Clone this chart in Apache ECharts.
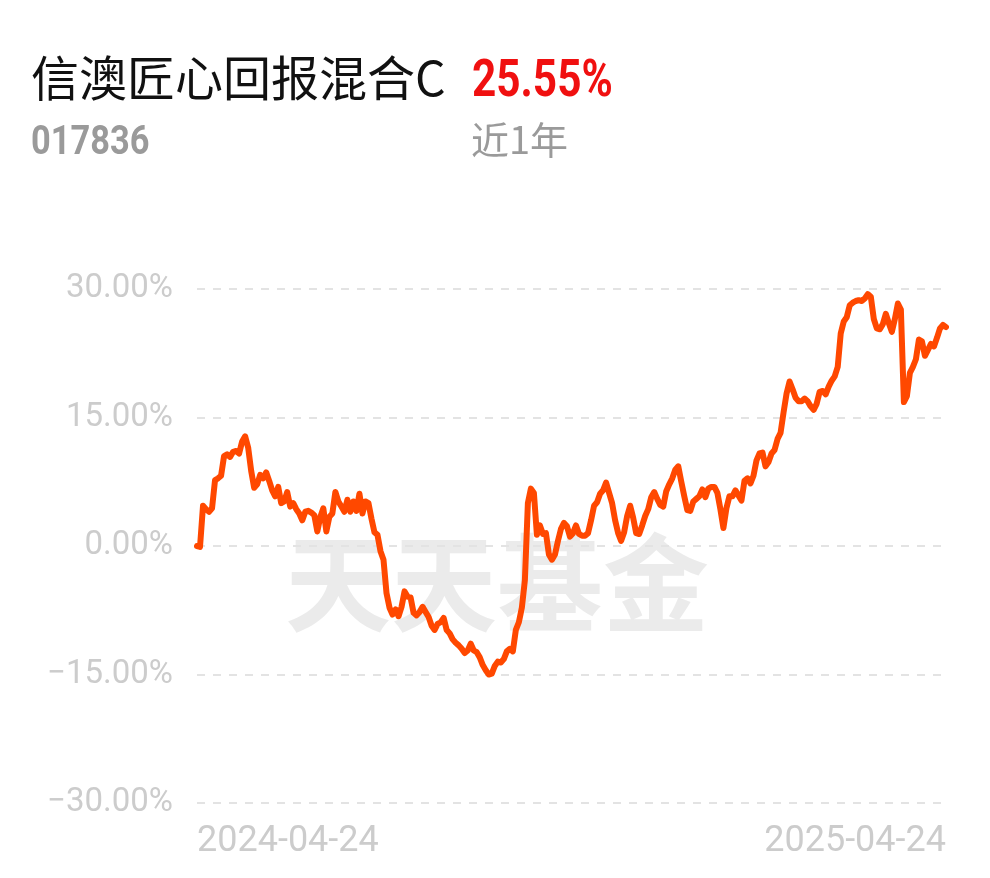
<!DOCTYPE html>
<html>
<head>
<meta charset="utf-8">
<script src="https://cdn.jsdelivr.net/npm/echarts@6/dist/echarts.min.js"></script>
<style>
html,body{margin:0;padding:0;background:#fff;}
#chart{width:990px;height:878px;}
</style>
</head>
<body>
<div id="chart"></div>
<script>
const fundName = '信澳匠心回报混合C';
const fundCode = '017836';
const periodReturn = '25.55%';
const periodLabel = '近1年';
const watermark = '天天基金';
const xTickLabels = ['2024-04-24', '2025-04-24'];
const yTicks = [-30, -15, 0, 15, 30];

const returns = [
  0, -0.1, 4.7, 4.3, 4.0, 4.4, 7.7, 7.9, 8.2, 10.5,
  10.7, 10.4, 11.0, 11.1, 10.8, 12.2, 12.8, 11.5, 8.8, 6.8,
  7.2, 8.3, 7.9, 8.6, 7.6, 6.5, 5.8, 6.9, 5.0, 5.2,
  6.3, 4.6, 5.0, 4.3, 3.8, 3.0, 4.0, 4.1, 3.9, 3.6,
  1.7, 3.4, 4.4, 1.7, 3.4, 3.8, 6.3, 5.2, 4.6, 4.0,
  5.4, 4.0, 5.2, 4.1, 6.1, 3.8, 5.2, 5.0, 3.2, 1.6,
  1.3, -0.6, -1.6, -5.5, -7.2, -8.0, -7.4, -8.2, -7.1, -5.3,
  -5.9, -6.0, -7.8, -8.1, -7.7, -7.1, -7.7, -8.3, -9.3, -9.8,
  -9.1, -8.9, -8.4, -9.8, -10.2, -10.9, -11.3, -11.6, -12.0, -12.5,
  -12.2, -11.4, -12.2, -12.4, -13.0, -13.9, -14.5, -15.0, -14.9, -14.0,
  -13.5, -13.6, -13.2, -12.3, -12.0, -12.3, -9.8, -8.9, -7.2, -4.0,
  5.0, 6.7, 6.2, 1.3, 2.4, 1.4, 1.5, -1.0, -1.6, -1.0,
  0.6, 2.0, 2.7, 2.3, 1.1, 1.5, 2.4, 1.4, 1.2, 1.2,
  1.5, 3.0, 4.7, 5.1, 6.1, 6.5, 7.4, 6.2, 5.0, 3.0,
  1.5, 0.6, 1.6, 3.5, 4.7, 3.3, 1.5, 1.4, 2.4, 3.5,
  4.3, 5.7, 6.3, 5.5, 4.8, 4.6, 6.4, 7.2, 7.9, 8.9,
  9.3, 7.5, 5.8, 4.2, 4.1, 5.2, 5.5, 5.8, 6.6, 5.7,
  6.7, 6.9, 6.9, 6.2, 4.3, 2.1, 4.4, 5.8, 5.8, 6.5,
  5.9, 5.3, 7.6, 7.9, 7.3, 8.2, 10.0, 10.8, 10.9, 9.3,
  9.8, 10.8, 11.2, 12.5, 13.2, 15.6, 17.8, 19.2, 18.3, 17.3,
  16.9, 16.9, 17.2, 16.9, 16.3, 15.9, 16.6, 18.0, 18.1, 17.7,
  18.6, 19.3, 19.8, 20.9, 24.8, 26.2, 26.7, 28.1, 28.4, 28.6,
  28.7, 28.6, 28.9, 29.4, 29.1, 26.5, 25.4, 25.3, 25.9, 27.1,
  26.0, 25.0, 26.5, 28.3, 27.6, 16.8, 17.5, 20.2, 20.9, 21.8,
  24.1, 23.9, 22.2, 22.9, 23.6, 23.3, 24.3, 25.4, 25.8, 25.55
];

const categories = returns.map((_, i) =>
  i === 0 ? xTickLabels[0] : (i === returns.length - 1 ? xTickLabels[1] : 'd' + i));

const chart = echarts.init(document.getElementById('chart'), null, {renderer: 'canvas'});
const grey = '#cccccc';
chart.setOption({
  animation: false,
  backgroundColor: '#ffffff',
  grid: {left: 197, right: 44, top: 289, bottom: 75},
  graphic: [
    {type: 'text', x: 31, y: 54, z: 10,
      style: {text: fundName, fontSize: 48, fill: '#111', fontFamily: '"Noto Sans CJK SC", sans-serif'}},
    {type: 'text', x: 472, y: 58, scaleX: 0.83, z: 10,
      style: {text: periodReturn, fontSize: 51, fontWeight: 'bold', fill: '#f01010', fontFamily: 'Roboto, sans-serif'}},
    {type: 'text', x: 31, y: 124, scaleX: 0.86, z: 10,
      style: {text: fundCode, fontSize: 40, fontWeight: 'bold', fill: '#9a9a9a', fontFamily: 'Roboto, sans-serif'}},
    {type: 'text', x: 471, y: 121, z: 10,
      style: {text: periodLabel, fontSize: 38, fill: '#9a9a9a', fontFamily: '"Noto Sans CJK SC", sans-serif'}},
    {type: 'text', x: 285, y: 530, z: 0, silent: true,
      style: {text: watermark, fontSize: 106, fontWeight: 'bold', fill: '#ebebeb', fontFamily: '"Noto Sans CJK SC", sans-serif'}}
  ],
  xAxis: {
    type: 'category',
    data: categories,
    boundaryGap: false,
    axisLine: {show: false},
    axisTick: {show: false},
    splitLine: {show: false},
    axisLabel: {
      interval: (idx) => idx === 0 || idx === categories.length - 1,
      formatter: (v) => xTickLabels.includes(v) ? v : '',
      alignMinLabel: 'left',
      alignMaxLabel: 'right',
      color: grey,
      fontSize: 36,
      margin: 21,
      fontFamily: 'Roboto, sans-serif'
    }
  },
  yAxis: {
    type: 'value',
    min: yTicks[0],
    max: yTicks[yTicks.length - 1],
    interval: 15,
    axisLine: {show: false},
    axisTick: {show: false},
    axisLabel: {
      formatter: (v) => (v < 0 ? '\u2212' : '') + Math.abs(v).toFixed(2) + '%',
      color: grey,
      fontSize: 33,
      margin: 24,
      fontFamily: 'Roboto, sans-serif'
    },
    splitLine: {show: true, lineStyle: {color: '#e3e3e3', width: 2, type: [8, 8]}}
  },
  series: [{
    type: 'line',
    data: returns,
    showSymbol: false,
    z: 5,
    lineStyle: {color: '#ff4800', width: 6, cap: 'round', join: 'round'},
    itemStyle: {color: '#ff4800'}
  }]
});
</script>
</body>
</html>
